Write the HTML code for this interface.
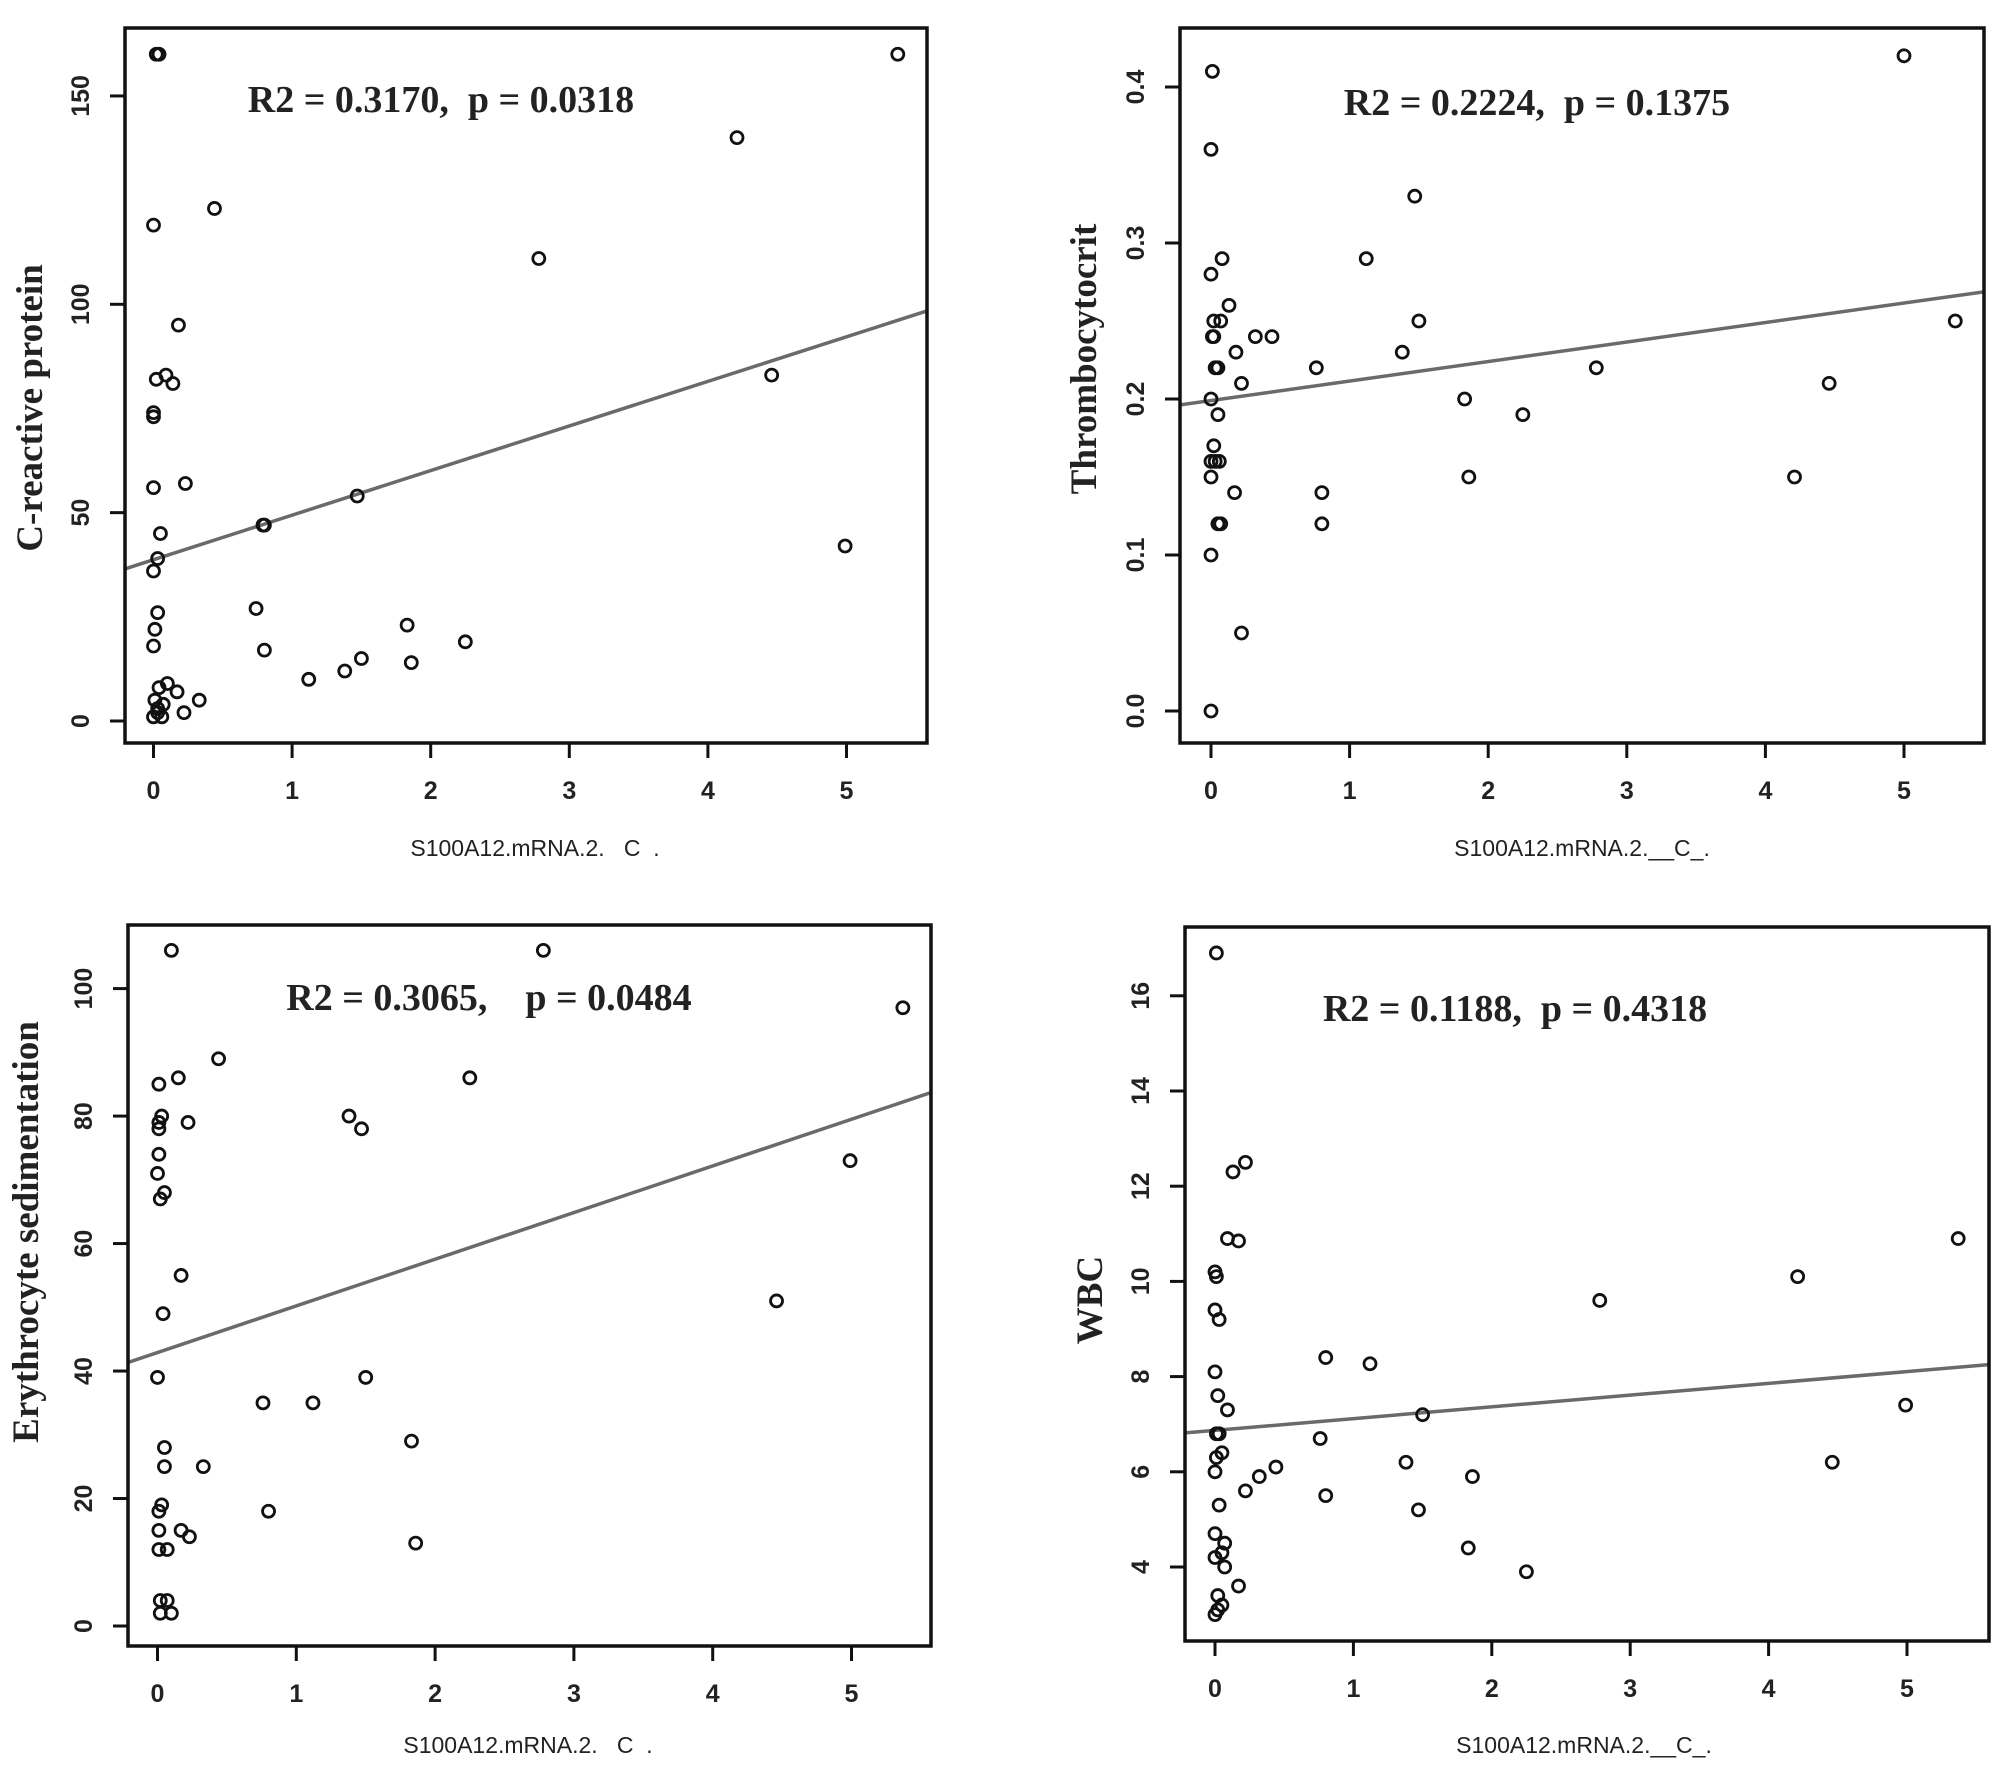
<!DOCTYPE html>
<html><head><meta charset="utf-8"><style>
html,body{margin:0;padding:0;background:#fff;}
svg{display:block;}
text{white-space:pre;}
.tick{font-family:"Liberation Sans",sans-serif;font-size:25px;font-weight:bold;fill:#222;}
.xt{font-family:"Liberation Sans",sans-serif;font-size:23px;fill:#222;}
.yt{font-family:"Liberation Serif",serif;font-size:37px;font-weight:bold;fill:#222;}
.r2{font-family:"Liberation Serif",serif;font-size:38px;font-weight:bold;fill:#222;}
</style></head><body>
<svg id="fig" width="2008" height="1772" viewBox="0 0 2008 1772" xmlns="http://www.w3.org/2000/svg"></svg>
<script>
// Panel 1: C-reactive protein
const crpX=[0.02,0.04,5.37,4.21,0.44,0,2.78,0.18,0.02,0.09,0.14,0,0,4.46,0,0.23,1.47,0.8,0.79,0.05,4.99,0.03,0,0.74,0.03,0.01,0,0.8,1.83,2.25,1.12,1.38,1.5,1.86,0.1,0.04,0.17,0.33,0.22,0.01,0.03,0.07,0,0.06,0.03];
const crpY=[160,160,160,140,123,119,111,95,82,83,81,74,73,83,56,57,54,47,47,45,42,39,36,27,26,22,18,17,23,19,10,12,15,14,9,8,7,5,2,5,3,4,1,1,2];
const crpTicks=[0,50,100,150];
const crpFit=[38.7,10.7];
// Panel 2: Thrombocytocrit
const pctX=[0.01,0,5,1.47,1.12,0.08,0,0.13,0.07,0.02,0.01,0.02,0.32,0.44,1.5,5.37,1.38,0.18,0.03,0.05,0.76,2.78,0.22,4.46,0,1.83,0.05,2.25,0.02,0,0.03,0.06,0,1.86,4.21,0.17,0.8,0.05,0.07,0.8,0,0.22,0];
const pctY=[0.41,0.36,0.42,0.33,0.29,0.29,0.28,0.26,0.25,0.25,0.24,0.24,0.24,0.24,0.25,0.25,0.23,0.23,0.22,0.22,0.22,0.22,0.21,0.21,0.2,0.2,0.19,0.19,0.17,0.16,0.16,0.16,0.15,0.15,0.15,0.14,0.14,0.12,0.12,0.12,0.1,0.05,0.0];
const pctTicks=[0,0.1,0.2,0.3,0.4];
const pctTickLabels=["0.0","0.1","0.2","0.3","0.4"];
const pctFit=[0.199,0.0125];
// Panel 3: ESR
const esrX=[0.1,2.78,5.37,0.44,2.25,0.15,0.01,0.03,1.38,0.01,0.22,1.47,0.01,0.01,4.99,0,0.05,0.02,0.17,4.46,0.04,0,1.5,0.76,1.12,1.83,0.05,0.33,0.05,0.03,0.01,0.8,0.17,0.01,0.23,1.86,0.01,0.07,0.02,0.07,0.02,0.1];
const esrY=[106,106,97,89,86,86,85,80,80,79,79,78,78,74,73,71,68,67,55,51,49,39,39,35,35,29,28,25,25,19,18,18,15,15,14,13,12,12,4,4,2,2];
const esrTicks=[0,20,40,60,80,100];
const esrFit=[42.9,7.32];
// Panel 4: WBC
const wbcX=[0.01,0.13,0.22,0.09,0.17,5.37,0,0.01,4.21,0,0.03,2.78,0.8,1.12,0,0.02,0.09,4.99,1.5,0.01,0.03,0.76,0.05,0.01,1.38,4.46,0.44,0,0.32,1.86,0.22,0.8,0.03,1.47,0,0.07,0.05,0,0.07,1.83,2.25,0.17,0.02,0.05,0.02,0];
const wbcY=[16.9,12.3,12.5,10.9,10.85,10.9,10.2,10.1,10.1,9.4,9.2,9.6,8.4,8.27,8.1,7.6,7.3,7.4,7.2,6.8,6.8,6.7,6.4,6.3,6.2,6.2,6.1,6.0,5.9,5.9,5.6,5.5,5.3,5.2,4.7,4.5,4.3,4.2,4.0,4.4,3.9,3.6,3.4,3.2,3.1,3.0];
const wbcTicks=[4,6,8,10,12,14,16];
const wbcFit=[6.87,0.247];
const xTicks=[0,1,2,3,4,5];

const NS="http://www.w3.org/2000/svg";
const svg=document.getElementById('fig');
function mk(tag,attrs,parent){const e=document.createElementNS(NS,tag);for(const k in attrs)e.setAttribute(k,attrs[k]);(parent||svg).appendChild(e);return e;}

function panel(cfg){
  const g=mk('g',{});
  
  
  const sx=v=>cfg.x0+v*cfg.xs;
  const sy=v=>cfg.y0-(v-cfg.yb)*cfg.ys;
  const cid='clip-'+cfg.name;
  const cp=mk('clipPath',{id:cid},g);
  mk('rect',{x:cfg.l,y:cfg.t,width:cfg.r-cfg.l,height:cfg.b-cfg.t},cp);
  const xa=(cfg.l-cfg.x0)/cfg.xs, xb=(cfg.r-cfg.x0)/cfg.xs;
  const fl=mk('line',{x1:sx(xa),y1:sy(cfg.fit[0]+cfg.fit[1]*xa),x2:sx(xb),y2:sy(cfg.fit[0]+cfg.fit[1]*xb),stroke:'#6a6a6a','stroke-width':3.5,'clip-path':'url(#'+cid+')'},g);
  
  
  for(let i=0;i<cfg.xs_.length;i++){
    const c=mk('circle',{cx:sx(cfg.xs_[i]),cy:sy(cfg.ys_[i]),r:6,fill:'none',stroke:'#111','stroke-width':2.8},g);
    
    
  }
  const bx=mk('rect',{x:cfg.l,y:cfg.t,width:cfg.r-cfg.l,height:cfg.b-cfg.t,fill:'none',stroke:'#111','stroke-width':3.5},g);
  
  
  xTicks.forEach(v=>{
    mk('line',{x1:sx(v),x2:sx(v),y1:cfg.b,y2:cfg.b+15,stroke:'#111','stroke-width':3},g);
    const t=mk('text',{x:sx(v),y:cfg.b+56,'text-anchor':'middle',class:'tick'},g);
    t.textContent=v;
    
    
  });
  cfg.yt.forEach((v,i)=>{
    mk('line',{x1:cfg.l,x2:cfg.l-15,y1:sy(v),y2:sy(v),stroke:'#111','stroke-width':3},g);
    const lx=cfg.l-36;
    const t=mk('text',{x:lx,y:sy(v),'text-anchor':'middle',class:'tick',transform:'rotate(-90 '+lx+' '+sy(v)+')'},g);
    t.textContent=cfg.ytl?cfg.ytl[i]:v;
    
    
  });
  const xt=mk('text',{x:cfg.xtx,y:cfg.xty,'text-anchor':'middle',class:'xt'},g);
  xt.textContent=cfg.xtitle;
  
  
  const yt=mk('text',{x:cfg.ytx,y:cfg.yty,'text-anchor':'middle',class:'yt',transform:'rotate(-90 '+cfg.ytx+' '+cfg.yty+')'},g);
  yt.textContent=cfg.ytitle;
  
  
  const r=mk('text',{x:cfg.rx,y:cfg.ry,'text-anchor':'middle',class:'r2'},g);
  r.textContent=cfg.r2;
  
  
}

panel({name:'crp-panel',l:125,t:28,r:927,b:743,x0:153.5,xs:138.6,y0:721,yb:0,ys:4.167,
  xs_:crpX,ys_:crpY,yt:crpTicks,fit:crpFit,xtitle:'S100A12.mRNA.2.   C  .',xtx:535,xty:856,
  ytitle:'C-reactive protein',ytx:42,yty:408,r2:'R2 = 0.3170,  p = 0.0318',rx:441,ry:112});
panel({name:'pct-panel',l:1180,t:28,r:1984,b:743,x0:1211,xs:138.6,y0:711,yb:0,ys:1560,
  xs_:pctX,ys_:pctY,yt:pctTicks,ytl:pctTickLabels,fit:pctFit,xtitle:'S100A12.mRNA.2.__C_.',xtx:1582,xty:856,
  ytitle:'Thrombocytocrit',ytx:1096,yty:359,r2:'R2 = 0.2224,  p = 0.1375',rx:1537,ry:115});
panel({name:'esr-panel',l:128,t:925,r:931,b:1646,x0:157.5,xs:138.8,y0:1626,yb:0,ys:6.374,
  xs_:esrX,ys_:esrY,yt:esrTicks,fit:esrFit,xtitle:'S100A12.mRNA.2.   C  .',xtx:528,xty:1753,
  ytitle:'Erythrocyte sedimentation',ytx:38,yty:1232,r2:'R2 = 0.3065,    p = 0.0484',rx:489,ry:1010});
panel({name:'wbc-panel',l:1185,t:927,r:1989,b:1641,x0:1215,xs:138.4,y0:1567,yb:4,ys:47.6,
  xs_:wbcX,ys_:wbcY,yt:wbcTicks,fit:wbcFit,xtitle:'S100A12.mRNA.2.__C_.',xtx:1584,xty:1753,
  ytitle:'WBC',ytx:1102,yty:1300,r2:'R2 = 0.1188,  p = 0.4318',rx:1515,ry:1021});
</script>
</body></html>
